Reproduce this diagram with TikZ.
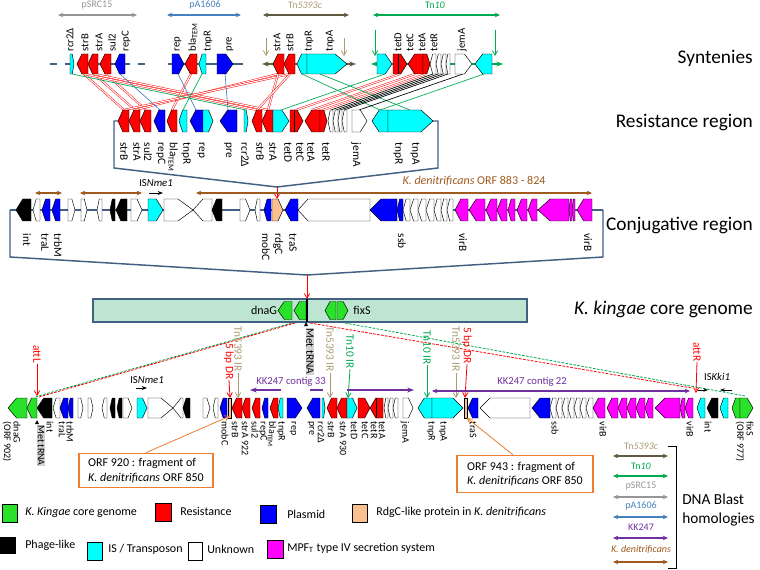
\documentclass[tikz,border=0pt]{standalone}
\usepackage{fontspec}
\setmainfont{Carlito}
\usetikzlibrary{arrows.meta}
\definecolor{cR}{RGB}{255,0,0}
\definecolor{cB}{RGB}{0,0,255}
\definecolor{cC}{RGB}{0,255,255}
\definecolor{cM}{RGB}{255,0,255}
\definecolor{cG}{RGB}{40,225,40}
\definecolor{cP}{RGB}{250,192,144}
\definecolor{frm}{RGB}{65,96,130}
\definecolor{brn}{RGB}{160,90,30}
\definecolor{khaki}{RGB}{170,155,115}
\definecolor{olv}{RGB}{95,90,65}
\definecolor{tngreen}{RGB}{0,170,80}
\definecolor{pgray}{RGB}{150,150,150}
\definecolor{pblue}{RGB}{70,130,190}
\definecolor{kpurple}{RGB}{112,48,160}
\definecolor{orng}{RGB}{237,125,49}
\definecolor{corefill}{RGB}{190,228,210}
\newcommand\gy{0}
\newcommand\gh{20}
\newcommand\gR[3]{\pgfmathsetmacro\tp{min(0.45*(#2-#1),0.5*\gh)}%
  \filldraw[gene,fill=#3] (#1,\gy-0.5*\gh) -- (#2-\tp,\gy-0.5*\gh) -- (#2,\gy) -- (#2-\tp,\gy+0.5*\gh) -- (#1,\gy+0.5*\gh) -- cycle;}
\newcommand\gL[3]{\pgfmathsetmacro\tp{min(0.45*(#2-#1),0.5*\gh)}%
  \filldraw[gene,fill=#3] (#2,\gy-0.5*\gh) -- (#1+\tp,\gy-0.5*\gh) -- (#1,\gy) -- (#1+\tp,\gy+0.5*\gh) -- (#2,\gy+0.5*\gh) -- cycle;}
\newcommand\gRt[4]{\filldraw[gene,fill=#3] (#1,\gy-0.5*\gh) -- (#2-#4,\gy-0.5*\gh) -- (#2,\gy) -- (#2-#4,\gy+0.5*\gh) -- (#1,\gy+0.5*\gh) -- cycle;}
\newcommand\gLt[4]{\filldraw[gene,fill=#3] (#2,\gy-0.5*\gh) -- (#1+#4,\gy-0.5*\gh) -- (#1,\gy) -- (#1+#4,\gy+0.5*\gh) -- (#2,\gy+0.5*\gh) -- cycle;}
\tikzset{
 gene/.style={draw=black,line width=0.35pt},
 lsyn/.style={rotate=90,anchor=west,inner sep=0.3pt,font=\fontsize{8}{8}\selectfont},
 lres/.style={rotate=-90,anchor=west,inner sep=0.3pt,font=\fontsize{8.5}{9}\selectfont},
 lbot/.style={rotate=-90,anchor=west,inner sep=0.3pt,font=\fontsize{7.5}{8}\selectfont},
 vlab/.style={rotate=-90,anchor=west,inner sep=0.3pt,font=\fontsize{8.5}{9}\selectfont},
 ttl/.style={anchor=east,inner sep=0pt,font=\fontsize{14.5}{16}\selectfont},
 leg/.style={anchor=west,inner sep=0pt,font=\fontsize{9}{10}\selectfont},
 sm/.style={font=\fontsize{7.5}{8}\selectfont,inner sep=0.5pt},
 dbl/.style={{Stealth[length=4pt,width=3.5pt]}-{Stealth[length=4pt,width=3.5pt]},line width=0.9pt},
 barb/.style={-{Straight Barb[length=3.5pt,width=4pt]}},
 rdbl/.style={cR,line width=0.35pt,double=white,double distance=0.8pt},
 cl/.style={line width=0.5pt},
 dsh/.style={line width=0.6pt,dash pattern=on 2pt off 1pt},
}
\begin{document}
\begin{tikzpicture}[x=0.75pt,y=-0.75pt]
\useasboundingbox (0,0) rectangle (760,570);

% ---------- titles ----------
\node[ttl] (tsyn) at (753,58) {Syntenies};
\node[ttl] (tres) at (753,123) {Resistance region};
\node[ttl] (tcon) at (753,225) {Conjugative region};
\node[ttl] (tcore) at (753,309) {\textit{K. kingae} core genome};

% ---------- group labels (syntenies) ----------
\node[sm,text=pgray] (gpsrc) at (97,5) {pSRC15};
\draw[dbl,pgray] (58,15) -- (137,15);
\node[sm,text=pblue] (gpa) at (205,5) {pA1606};
\draw[dbl,pblue] (167,15) -- (241,15);
\node[sm,text=khaki] (gtn53) at (305,5) {Tn\textit{5393c}};
\draw[dbl,olv] (263,15) -- (349,15);
\node[sm,text=tngreen] (gtn10) at (435,5) {Tn\textit{10}};
\draw[dbl,tngreen] (373,15) -- (500,15);
\draw[khaki,barb,line width=0.6pt] (266,38) -- (266,56);
\draw[khaki,barb,line width=0.6pt] (344,38) -- (344,56);
\draw[tngreen,barb,line width=0.6pt] (375,30) -- (375,56);
\draw[tngreen,barb,line width=0.6pt] (495,30) -- (495,56);

% ---------- connections syntenies -> resistance ----------
\foreach \a/\b in {84/124,94/135,106/146,84/257,94/268,191/172,278/135,290/124,278/268,290/257,400/296,415/312,426/323}
  {\draw[rdbl] (\a,74) -- (\b,110);}
\foreach \a/\b in {120/160,178/196,225/228}
  {\draw[cl,pblue] (\a,74) -- (\b,110);}
\foreach \a/\b in {72/246,202/183,302/380,320/410,385/281,484/380}
  {\draw[cl,tngreen] (\a,74) -- (\b,110);}
\foreach \a/\b in {433/331,438/336,443/340,448/344,463/359}
  {\draw[cl,black] (\a,74) -- (\b,110);}

% ---------- syntenies backbones and genes ----------
\draw[frm,line width=1.5pt,dash pattern=on 5pt off 6pt] (50,64) -- (150,64);
\draw[frm,line width=1.2pt] (168,64) -- (243,64);
\draw[olv,line width=1pt,{Stealth[length=5pt]}-{Stealth[length=5pt]}] (262,64) -- (356,64);
\draw[tngreen,line width=1pt,{Stealth[length=5pt]}-{Stealth[length=5pt]}] (371,64) -- (503,64);
\renewcommand\gy{64}\renewcommand\gh{20}
\gR{70}{74}{cC}\gL{77}{88}{cR}\gL{88}{98}{cR}\gL{100}{111}{cR}\gL{115}{125}{cB}
\gR{172}{184}{cB}\gL{185}{197}{cR}\gL{199}{206}{cC}\gR{217}{233}{cB}
\gL{273}{284}{cR}\gL{284}{295}{cR}\gL{297}{307}{cC}\gRt{307}{347}{cC}{12}
\gR{377}{392}{cC}\gR{393}{407}{cR}\draw (398,54) -- (398,74);
\gL{408}{423}{cR}\gR{423}{430}{cR}
\foreach \a/\b in {430/436,436/441,441/446,446/450}{\gL{\a}{\b}{white}}
\gR{455}{472}{white}\gL{475}{492}{cC}
\foreach \x/\t in {70/rcr2Δ,85/strB,99/strA,112/sul2,126/repC,178/rep,193/{bla\textsubscript{TEM}},208/tnpR,230/pre,277/strA,290/strB,309/tnpR,330/tnpA,398/tetD,410/tetC,422/tetA,434/tetR,462/jemA}
  {\node[lsyn] at (\x,52) {\t};}

% ---------- resistance region ----------
\draw[frm,line width=1.1pt] (118,121) -- (114,121) -- (114,168) -- (277,187) -- (438,168) -- (438,121) -- (433,121);
\renewcommand\gy{121}\renewcommand\gh{22}
\gL{118}{129}{cR}\gL{129}{140}{cR}\gL{140}{151}{cR}\gL{154}{165}{cB}\gL{167}{177}{cR}\gL{179}{187}{cC}
\gL{190}{203}{cB}\gR{203}{213}{cC}
\gL{220}{237}{cB}\gR{244}{248}{cC}\gL{252}{262}{cR}\gL{262}{273}{cR}\gR{273}{289}{cC}
\gR{290}{303}{cR}\draw (294,110) -- (294,132);
\gL{305}{320}{cR}\gR{320}{327}{cR}
\foreach \a/\b in {328/333,333/338,338/342,342/347}{\gL{\a}{\b}{white}}
\gR{352}{367}{white}\gL{372}{388}{cC}\gRt{388}{433}{cC}{12}
\foreach \x/\t in {124/strB,137/strA,148/sul2,161/repC,173/{bla\textsubscript{TEM}},186/tnpR,201/rep,228/pre,245/rcr2Δ,260/strB,273/strA,288/tetD,300/tetC,311/tetA,326/tetR,356/jemA,398/tnpR,415/tnpA}
  {\node[lres] at (\x,142) {\t};}
\draw[cR,barb,line width=0.6pt] (277,187) -- (277,199);

% ---------- conjugative region ----------
\node[sm,text=brn,font=\fontsize{9}{10}\selectfont] (kden) at (474,181) {\textit{K. denitrificans} ORF 883 - 824};
\draw[dbl,brn] (35,193) -- (62,193);
\draw[dbl,brn] (80,193) -- (142,193);
\draw[dbl,brn] (196,193) -- (592,193);
\node[sm,font=\fontsize{8}{9}\selectfont] (isn1) at (156,183) {IS\textit{Nme1}};
\draw[-{Stealth[length=4pt]},line width=0.7pt] (149,193) -- (163,193);
\draw[frm,line width=1.1pt] (10,210) -- (603,210);
\draw[frm,line width=1.1pt] (10,210) -- (10,257) -- (307,275) -- (603,257) -- (603,210);
\renewcommand\gy{210}\renewcommand\gh{22}
\gL{16}{31}{black}\gL{33}{40}{white}\gL{42}{50}{cB}\gL{52}{60}{cB}
\gR{68}{75}{white}\gR{81}{87}{white}\gL{97}{102}{white}\gL{110}{115}{black}\gL{116}{127}{black}
\gR{131}{142}{white}\gR{148}{163}{cC}\gRt{164}{193}{white}{15}\gLt{193}{212}{white}{10}\gL{212}{222}{black}
\gR{240}{250}{white}\gL{255}{260}{white}\gL{264}{271}{cB}\gR{272}{283}{cP}\gL{285}{298}{cB}
\gLt{298}{370}{white}{10}\gL{370}{397}{cB}\gL{397}{403}{cB}
\foreach \a/\b in {403/410,410/418,418/426,426/434,434/441,441/447,447/453}{\gL{\a}{\b}{white}}
\foreach \a/\b in {455/468,469/485,486/497,497/507,508/515,517/527,528/537}{\gL{\a}{\b}{cM}}
\gLt{538}{569}{cM}{12}\gL{569}{572}{cM}\gL{572}{575}{cM}\gL{577}{592}{cM}
\foreach \x/\t in {27/int,45/traL,58/trbM,266/mobC,278/rdgC,293/traS,402/ssb,463/virB,588/virB}
  {\node[lres] at (\x,233) {\t};}
\draw[cR,barb,line width=0.6pt] (307,275) -- (307,299);

% ---------- core genome ----------
\draw[frm,fill=corefill,line width=1.3pt] (93,299) rectangle (527,322);
\renewcommand\gy{310.5}\renewcommand\gh{18}
\gL{278}{292}{cG}\gL{294}{306}{cG}\draw[line width=1pt] (307,299) -- (307,322);
\gL{325}{336}{cG}\gR{337}{348}{cG}
\node[font=\fontsize{9}{10}\selectfont] (dnag) at (264,310.5) {dnaG};
\node[font=\fontsize{9}{10}\selectfont] (fixs) at (362,310.5) {fixS};

% ---------- dashed homology lines ----------
\draw[dsh,tngreen] (292,323) -- (35,397);
\draw[dsh,cR] (295,323) -- (39,397);
\draw[dsh,cR] (310,323) -- (692,388);
\draw[dsh,tngreen] (345,323) -- (745,396);

% ---------- insertion labels ----------
\node[vlab,text=khaki] (ir1) at (238,326) {Tn5393 IR};
\draw[khaki,barb,line width=0.6pt] (ir1.east) -- (238,398);
\node[vlab,text=cR] (dr1) at (229,343) {5 bp DR};
\draw[cR,barb,line width=0.6pt] (dr1.east) -- (230,398);
\fill (304,326) -- (308,326) -- (306,322) -- cycle;
\node[vlab,fill=gray!35] (met) at (310,328) {Met tRNA};
\node[vlab,text=khaki] (ir2) at (330,326) {Tn5393 IR};
\draw[khaki,barb,line width=0.6pt] (ir2.east) -- (330,398);
\node[vlab,text=tngreen] (ir3) at (350,334) {Tn10 IR};
\draw[tngreen,barb,line width=0.6pt] (ir3.east) -- (348,398);
\node[vlab,text=tngreen] (ir4) at (427,330) {Tn10 IR};
\draw[tngreen,barb,line width=0.6pt] (ir4.east) -- (427,398);
\node[vlab,text=khaki] (ir5) at (456,326) {Tn5393 IR};
\draw[khaki,barb,line width=0.6pt] (ir5.east) -- (456,398);
\node[vlab,text=cR] (dr2) at (467,327) {5 bp DR};
\draw[cR,barb,line width=0.6pt] (dr2.east) -- (465,398);
\node[vlab,text=cR] (attr) at (697,342) {attR};
\draw[cR,barb,line width=0.6pt] (attr.east) -- (696,393);
\node[vlab,text=cR] (attl) at (37,345) {attL};
\draw[cR,barb,line width=0.6pt] (attl.east) -- (37,396);

% ---------- annotations above bottom row ----------
\node[sm,font=\fontsize{8}{9}\selectfont] (isn2) at (147,380) {IS\textit{Nme1}};
\draw[-{Stealth[length=4pt]},line width=0.7pt] (136,388) -- (147,388);
\node[sm,font=\fontsize{8}{9}\selectfont] (iskk) at (717,377) {IS\textit{Kki1}};
\draw[-{Stealth[length=3.5pt]},line width=0.7pt] (698,390) -- (708,390);
\draw[-{Stealth[length=3.5pt]},line width=0.7pt] (732,390) -- (720,390);
\node[sm,text=kpurple,font=\fontsize{8}{9}\selectfont] (kk33) at (291,382) {KK247 contig 33};
\draw[kpurple,line width=0.9pt,-{Stealth[length=5pt]}] (281,390) -- (250,390);
\draw[kpurple,line width=0.9pt] (310,390) -- (323,390);
\draw[kpurple,line width=0.9pt,-{Stealth[length=5pt]}] (347,390) -- (414,390);
\node[sm,text=kpurple,font=\fontsize{8}{9}\selectfont] (kk22) at (532,382) {KK247 contig 22};
\draw[kpurple,dbl] (432,391) -- (690,391);

% ---------- bottom row ----------
\renewcommand\gy{408}\renewcommand\gh{20}
\gL{8}{27}{cG}\gL{27}{37}{cG}\gL{37}{52}{black}\gL{53}{60}{white}\gL{60}{68}{cB}\gL{68}{73}{cB}
\gR{78}{83}{white}\gR{88}{93}{white}\gL{102}{107}{white}\gL{110}{115}{black}\gL{117}{122}{black}
\gR{123}{132}{white}\gR{137}{147}{cC}\gRt{148}{173}{white}{12}\gLt{173}{183}{white}{8}\gL{183}{190}{black}
\gR{203}{210}{white}\gL{213}{218}{white}\gL{220}{227}{cB}
\filldraw[gene,fill=cP] (228,398) rectangle (231,418);
\gL{232}{242}{cR}\gL{242}{250}{cR}\gL{252}{260}{cR}\gL{262}{268}{cB}\gL{270}{278}{cR}\gL{278}{283}{cC}
\gR{287}{302}{cB}\gL{307}{320}{cB}\gR{322}{325}{cC}\gL{327}{337}{cR}\gL{337}{347}{cR}\gR{347}{357}{cC}
\gR{358}{370}{cR}\gL{370}{383}{cR}\draw (376,398) -- (376,418);
\foreach \a/\b in {384/388,388/393,393/398}{\gL{\a}{\b}{white}}
\gR{403}{413}{white}\gL{418}{432}{cC}\gRt{432}{463}{cC}{10}
\filldraw[gene,fill=cP] (464,398) rectangle (467,418);
\gL{468}{478}{cB}\gLt{480}{530}{white}{10}\gL{532}{550}{cB}
\foreach \a/\b in {550/556,556/562,562/568,568/574,574/580,580/586,586/593}{\gL{\a}{\b}{white}}
\foreach \a/\b in {593/605,607/618,618/627,627/636,636/645,645/653}{\gL{\a}{\b}{cM}}
\gLt{655}{680}{cM}{10}\gL{680}{685}{cM}\gL{685}{693}{cM}
\gL{697}{705}{cC}\gL{707}{718}{black}\gL{720}{728}{cC}\gL{732}{740}{cG}\gR{740}{753}{cG}
\fill (35,424) -- (39,424) -- (37,420) -- cycle;
\node[lbot,fill=gray!35] (metb) at (41,425) {Met tRNA};
\foreach \x/\t in {17/dnaG,7/(ORF 902),50/int,62/traL,70/trbM,225/mobC,235/strB,245/strA 922,255/sul2,263/repC,272/{bla\textsubscript{TEM}},281/tnpR,293/rep,311/pre,321/rcr2Δ,331/strB,343/strA 930,354/tetD,365/tetC,374/tetR,382/tetA,405/jemA,431/tnpR,443/tnpA,473/traS,555/ssb,603/virB,690/virB,708/int,750/fixS,740/(ORF 977)}
  {\node[lbot] at (\x,421) {\t};}

% ---------- callouts ----------
\node[draw=orng,line width=0.8pt,fill=white,align=left,minimum width=100.5pt,minimum height=26pt,font=\fontsize{9}{11}\selectfont] (box1) at (146,470.5) {ORF 920 : fragment of\\\textit{K. denitrificans} ORF 850};
\draw[orng,line width=0.6pt,barb] (box1.north) -- (230,416);
\node[draw=orng,line width=0.8pt,fill=white,align=left,minimum width=102pt,minimum height=28pt,font=\fontsize{9}{11}\selectfont] (box2) at (525,474) {ORF 943 : fragment of\\\textit{K. denitrificans} ORF 850};
\draw[orng,line width=0.6pt,barb] ([xshift=-9pt]box2.north) -- (467,418);

% ---------- blast legend ----------
\node[sm,text=khaki] (lb1) at (641,446) {Tn\textit{5393c}};
\draw[dbl,olv] (613,456) -- (668,456);
\node[sm,text=tngreen] (lb2) at (641,466) {Tn\textit{10}};
\draw[dbl,tngreen] (613,476) -- (668,476);
\node[sm,text=pgray] (lb3) at (641,486) {pSRC15};
\draw[dbl,pgray] (613,497) -- (668,497);
\node[sm,text=pblue] (lb4) at (641,506) {pA1606};
\draw[dbl,pblue] (613,517) -- (668,517);
\node[sm,text=kpurple] (lb5) at (641,527) {KK247};
\draw[dbl,kpurple] (613,538) -- (668,538);
\node[sm,text=brn] (lb6) at (641,550) {\textit{K. denitrificans}};
\draw[dbl,brn] (613,562) -- (668,562);
\draw[line width=0.6pt] (668,446) -- (676,446) -- (676,568) -- (668,568);
\node[anchor=west,align=left,inner sep=0pt,font=\fontsize{11.5}{14}\selectfont] (dnab) at (682,510) {DNA Blast\\homologies};

% ---------- colour legend ----------
\draw[fill=cG] (2,504) rectangle (17,522);
\node[leg] (l1) at (25,512) {\textit{K. Kingae} core genome};
\draw[fill=cR] (155,503) rectangle (171,521);
\node[leg] (l2) at (180,511) {Resistance};
\draw[fill=cB] (260,505) rectangle (276,523);
\node[leg] (l3) at (287,514) {Plasmid};
\draw[fill=cP] (352,504) rectangle (367,522);
\node[leg] (l4) at (376,512) {RdgC-like protein in \textit{K. denitrificans}};
\draw[fill=black] (0,537) rectangle (15,553);
\node[leg] (l5) at (25,545) {Phage-like};
\draw[fill=cC] (87,542) rectangle (102,560);
\node[leg] (l6) at (108,549) {IS / Transposon};
\draw[fill=white] (188,542) rectangle (202,560);
\node[leg] (l7) at (207,549) {Unknown};
\draw[fill=cM] (267,540) rectangle (283,558);
\node[leg] (l8) at (287,548) {MPF\textsubscript{T} type IV secretion system};
\end{tikzpicture}
\end{document}
